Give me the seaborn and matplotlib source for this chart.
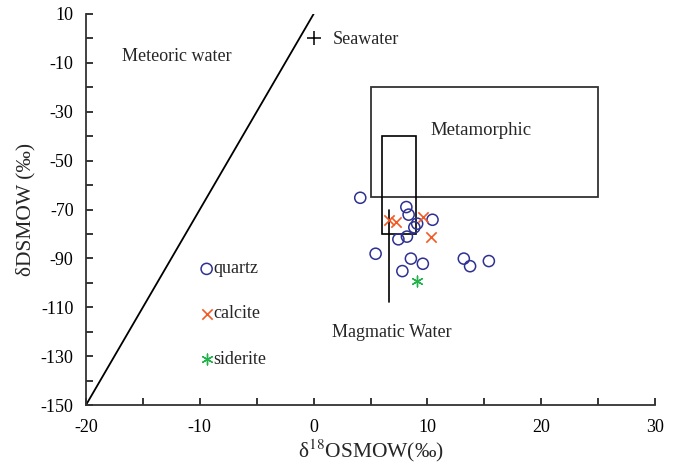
import matplotlib
matplotlib.use("Agg")
import matplotlib.pyplot as plt
import seaborn as sns
import pandas as pd
import numpy as np
from matplotlib.patches import Rectangle

# ---- data ----
quartz_x = [4.1, 8.15, 8.35, 10.45, 9.1, 8.85, 8.2, 7.45, 5.45, 8.55, 9.6, 7.8, 13.2, 13.75, 15.4]
quartz_y = [-65.2, -69.0, -72.1, -74.2, -75.8, -77.3, -81.1, -82.2, -88.1, -90.1, -92.2, -95.2, -90.1, -93.2, -91.1]
calcite_x = [6.6, 7.25, 9.6, 10.3]
calcite_y = [-74.3, -75.1, -73.1, -81.1]
siderite_x = [9.05]
siderite_y = [-99.1]

legend_x = [-9.4, -9.4, -9.4]
legend_y = [-94.3, -112.7, -131.2]
legend_labels = ["quartz", "calcite", "siderite"]

mwl_x = [-20, 0]
mwl_y = [-150, 10]
seawater = (0, 0)
meta_box = (5, -65, 25, -20)   # x0, y0, x1, y1
magm_box = (6, -80, 9, -40)
magm_line_x = [6.6, 6.6]
magm_line_y = [-70, -108]

x_ticks = [-20, -10, 0, 10, 20, 30]
y_ticks = [10, -10, -30, -50, -70, -90, -110, -130, -150]

c_quartz = "#2E3192"
c_calcite = "#F15A24"
c_siderite = "#22B24C"

sns.set_style("ticks")
plt.rcParams["font.family"] = ["Liberation Serif", "DejaVu Serif"]
plt.rcParams["mathtext.fontset"] = "stix"
plt.rcParams["axes.unicode_minus"] = False

fig = plt.figure(figsize=(6.78, 4.68), dpi=100)
ax = fig.add_axes([86/678, 1-405/468, (655-86)/678, (405-14)/468])

df_q = pd.DataFrame({"x": quartz_x, "y": quartz_y})
df_c = pd.DataFrame({"x": calcite_x, "y": calcite_y})
df_s = pd.DataFrame({"x": siderite_x, "y": siderite_y})

sns.scatterplot(data=df_q, x="x", y="y", ax=ax, marker="o", s=64,
                facecolors="none", edgecolor=c_quartz, linewidth=1.1, zorder=4)
sns.scatterplot(data=df_c, x="x", y="y", ax=ax, marker="x", s=55,
                color=c_calcite, linewidth=1.2, zorder=4)
sns.scatterplot(data=df_s, x="x", y="y", ax=ax, marker=(6, 2, 0), s=60,
                color=c_siderite, linewidth=1.0, zorder=4)

# in-plot legend
ax.scatter([legend_x[0]], [legend_y[0]], marker="o", s=64, facecolors="none",
           edgecolors=c_quartz, linewidths=1.1)
ax.scatter([legend_x[1]], [legend_y[1]], marker="x", s=55, c=c_calcite, linewidths=1.2)
ax.scatter([legend_x[2]], [legend_y[2]], marker=(6, 2, 0), s=60, c=c_siderite, linewidths=1.0)
for lx, ly, lab in zip(legend_x, legend_y, legend_labels):
    ax.text(lx + 0.6, ly, lab, fontsize=13, va="center", ha="left")

# meteoric water line
ax.plot(mwl_x, mwl_y, color="black", lw=1.3)
# seawater
ax.scatter([seawater[0]], [seawater[1]], marker="+", s=110, c="black", linewidths=1.1)
ax.text(1.7, -0.3, "Seawater", fontsize=13, va="center", ha="left")

# boxes
ax.add_patch(Rectangle((meta_box[0], meta_box[1]), meta_box[2]-meta_box[0],
                       meta_box[3]-meta_box[1], fill=False, ec="#333333", lw=1.3))
ax.add_patch(Rectangle((magm_box[0], magm_box[1]), magm_box[2]-magm_box[0],
                       magm_box[3]-magm_box[1], fill=False, ec="black", lw=1.2))
ax.plot(magm_line_x, magm_line_y, color="black", lw=1.2)

ax.text(-16.8, -7.2, "Meteoric water", fontsize=13, va="center", ha="left")
ax.text(10.3, -37.5, "Metamorphic", fontsize=13.5, va="center", ha="left")
ax.text(1.6, -120.5, "Magmatic Water", fontsize=13, va="center", ha="left")

ax.set_xlim(-20, 30)
ax.set_ylim(-150, 10)
ax.set_xticks(x_ticks)
ax.set_yticks(y_ticks)
ax.set_xticks(np.arange(-15, 30, 10), minor=True)
ax.set_yticks(np.arange(0, -150, -20), minor=True)
ax.tick_params(axis="both", which="both", direction="in", length=5, width=1.1,
               labelsize=13, colors="black")
ax.tick_params(axis="x", which="major", pad=10)
ax.tick_params(axis="y", which="major", pad=9)
for sp in ["top", "right"]:
    ax.spines[sp].set_visible(False)
for sp in ["left", "bottom"]:
    ax.spines[sp].set_linewidth(1.3)
    ax.spines[sp].set_color("#333333")

ax.set_xlabel("δ$^{18}$OSMOW(‰)", fontsize=15.5, labelpad=1)
ax.set_ylabel("δDSMOW (‰)", fontsize=15.5, labelpad=4)

fig.savefig("out.png", dpi=100)
